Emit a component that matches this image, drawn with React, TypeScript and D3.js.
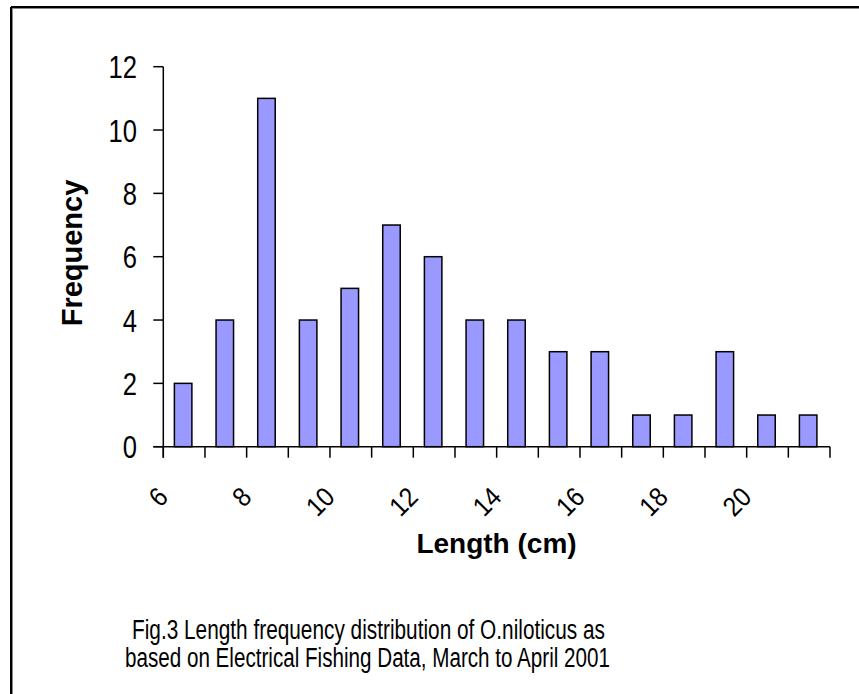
import React from "react";
import * as d3 from "d3";

const categories = ["6", "7", "8", "9", "10", "11", "12", "13", "14", "15", "16", "17", "18", "19", "20", "21"];
const frequencies = [2, 4, 11, 4, 5, 7, 6, 4, 4, 3, 3, 1, 1, 3, 1, 1];
const xTickLabels = ["6", "8", "10", "12", "14", "16", "18", "20"];
const yTicks = [0, 2, 4, 6, 8, 10, 12];
const captionLines = [
  "Fig.3 Length frequency distribution of O.niloticus as",
  "based on Electrical Fishing Data, March to April 2001",
];
const xTitle = "Length (cm)";
const yTitle = "Frequency";

const W = 859;
const H = 694;
const left = 163.3;
const right = 830;
const top = 66.7;
const bottom = 446.7;

export default function App() {
  const x = d3.scaleBand<string>().domain(categories).range([left, right]).padding(0);
  const y = d3.scaleLinear().domain([0, 12]).range([bottom, top]);
  const bw = x.bandwidth() * 0.42;
  const font = "'Liberation Sans', Arial, sans-serif";

  return (
    <svg
      width={W}
      height={H}
      style={{ position: "absolute", left: 0, top: 0, background: "#fff" }}
      fontFamily={font}
    >
      <rect x={0} y={0} width={W} height={H} fill="#fff" />
      {/* frame */}
      <line x1={11} y1={7} x2={W + 2} y2={7} stroke="#000" strokeWidth={2} />
      <line x1={11} y1={7} x2={11} y2={H + 2} stroke="#000" strokeWidth={2} />
      <line x1={12} y1={8.5} x2={W + 2} y2={8.5} stroke="#888" strokeWidth={1} />
      <line x1={12.5} y1={8} x2={12.5} y2={H + 2} stroke="#888" strokeWidth={1} />

      {/* bars */}
      {frequencies.map((v, i) => {
        const cx = (x(categories[i]) as number) + x.bandwidth() / 2 - 1;
        return (
          <rect
            key={i}
            x={cx - bw / 2}
            y={y(v)}
            width={bw}
            height={bottom - y(v)}
            fill="#9999FF"
            stroke="#000"
            strokeWidth={1.5}
          />
        );
      })}

      {/* y axis */}
      <line x1={left} y1={top} x2={left} y2={bottom + 11} stroke="#000" strokeWidth={1.5} />
      {yTicks.map((t) => (
        <g key={t}>
          <line x1={left - 10} y1={y(t)} x2={left} y2={y(t)} stroke="#000" strokeWidth={1.5} />
          <text
            transform={`translate(137,${y(t) + 11.5}) scale(0.8,1)`}
            textAnchor="end"
            fontSize={32}
            fill="#000"
          >
            {t}
          </text>
        </g>
      ))}

      {/* x axis */}
      <line x1={left - 10} y1={bottom} x2={right} y2={bottom} stroke="#000" strokeWidth={1.5} />
      {categories.concat(["end"]).map((c, i) => {
        const xx = left + i * x.bandwidth();
        return <line key={c} x1={xx} y1={bottom} x2={xx} y2={bottom + 11} stroke="#000" strokeWidth={1.5} />;
      })}
      {xTickLabels.map((lab) => {
        const cx = (x(lab) as number) + x.bandwidth() / 2;
        return (
          <text
            key={lab}
            transform={`translate(${cx - 14.5},${bottom + 52}) rotate(-45) scale(0.9,1)`}
            textAnchor="end"
            fontSize={27}
            fill="#000"
          >
            {lab}
          </text>
        );
      })}

      {/* titles */}
      <text x={496.5} y={553} textAnchor="middle" fontSize={28} fontWeight="bold" fill="#000">
        {xTitle}
      </text>
      <text
        transform={`translate(82,253) rotate(-90)`}
        textAnchor="middle"
        fontSize={29}
        fontWeight="bold"
        fill="#000"
      >
        {yTitle}
      </text>

      {/* caption */}
      <text x={368.5} y={639} textAnchor="middle" fontSize={27} textLength={473} lengthAdjust="spacingAndGlyphs" fill="#000">
        {captionLines[0]}
      </text>
      <text x={367.5} y={667} textAnchor="middle" fontSize={27} textLength={485} lengthAdjust="spacingAndGlyphs" fill="#000">
        {captionLines[1]}
      </text>
    </svg>
  );
}
